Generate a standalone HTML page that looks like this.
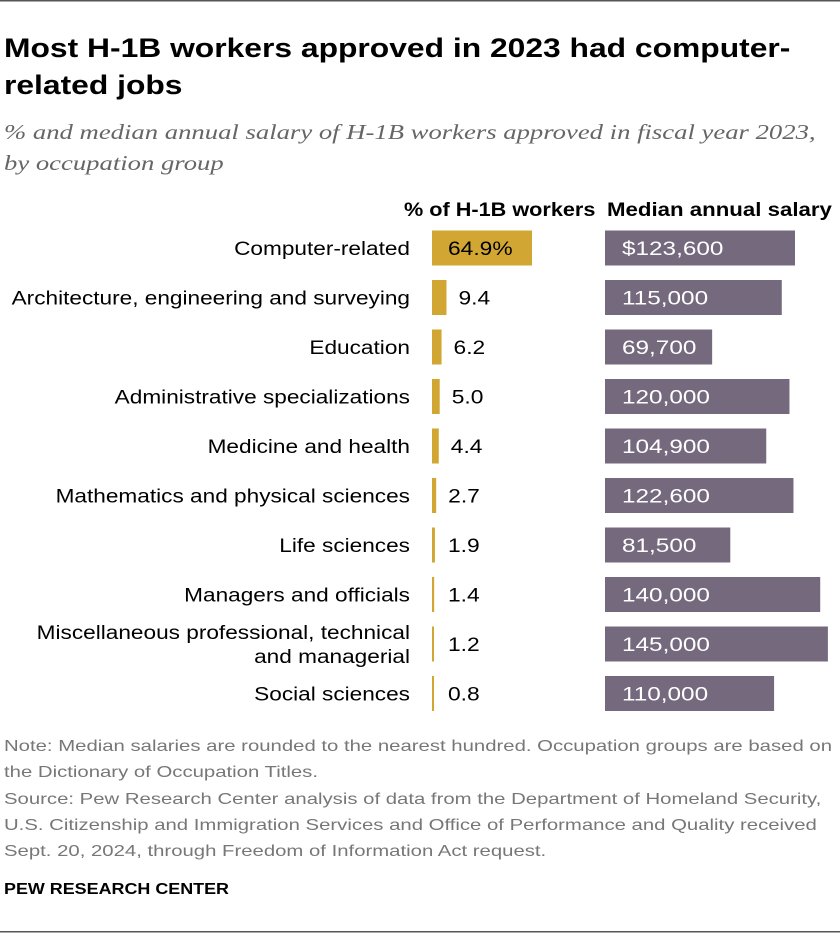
<!DOCTYPE html>
<html><head><meta charset="utf-8"><style>
body{margin:0;background:#fff;}
svg text{font-family:"Liberation Sans",Arial,sans-serif;}
</style></head><body>
<svg width="840" height="936" viewBox="0 0 840 936" xmlns="http://www.w3.org/2000/svg">
<rect x="0" y="0" width="840" height="1.5" fill="#555"/>
<text x="4" y="57" font-size="26.5" font-weight="bold" fill="#000" data-f="1.2">Most H-1B workers approved in 2023 had computer-</text>
<text x="4" y="94" font-size="26.5" font-weight="bold" fill="#000" data-f="1.2">related jobs</text>
<text x="4" y="139" font-size="21" font-style="italic" fill="#666" data-f="1.27" style="font-family:'Liberation Serif',serif">% and median annual salary of H-1B workers approved in fiscal year 2023,</text>
<text x="4" y="170" font-size="21" font-style="italic" fill="#666" data-f="1.27" style="font-family:'Liberation Serif',serif">by occupation group</text>
<text x="404" y="216" font-size="19" font-weight="bold" fill="#000" data-f="1.14">% of H-1B workers</text>
<text x="607" y="216" font-size="19" font-weight="bold" fill="#000" data-f="1.17">Median annual salary</text>
<g id="rows"></g>
<g fill="#777" font-size="16">
<text x="4" y="751" data-f="1.27">Note: Median salaries are rounded to the nearest hundred. Occupation groups are based on</text>
<text x="4" y="777" data-f="1.27">the Dictionary of Occupation Titles.</text>
<text x="4" y="804" data-f="1.27">Source: Pew Research Center analysis of data from the Department of Homeland Security,</text>
<text x="4" y="830" data-f="1.27">U.S. Citizenship and Immigration Services and Office of Performance and Quality received</text>
<text x="4" y="856" data-f="1.27">Sept. 20, 2024, through Freedom of Information Act request.</text>
</g>
<text x="4" y="894" font-size="16" font-weight="bold" fill="#000" data-f="1.12">PEW RESEARCH CENTER</text>
<rect x="0" y="931" width="840" height="1.5" fill="#555"/>
</svg>
<script>
const categories=["Computer-related","Architecture, engineering and surveying","Education","Administrative specializations","Medicine and health","Mathematics and physical sciences","Life sciences","Managers and officials","Miscellaneous professional, technical|and managerial","Social sciences"];
const pctValues=[64.9,9.4,6.2,5.0,4.4,2.7,1.9,1.4,1.2,0.8];
const pctLabels=["64.9%","9.4","6.2","5.0","4.4","2.7","1.9","1.4","1.2","0.8"];
const salaryValues=[123600,115000,69700,120000,104900,122600,81500,140000,145000,110000];
const salaryLabels=["$123,600","115,000","69,700","120,000","104,900","122,600","81,500","140,000","145,000","110,000"];
const NS="http://www.w3.org/2000/svg";
const g=document.getElementById('rows');
const pctX=v=>Math.max(2,v*100/64.9);
const salX=v=>v*190/123600;
const rowY=i=>248+i*49.5;
function mk(tag,attrs,txt){const e=document.createElementNS(NS,tag);for(const k in attrs)e.setAttribute(k,attrs[k]);if(txt!==undefined)e.textContent=txt;g.appendChild(e);return e;}
categories.forEach((c,i)=>{
  const y=rowY(i);
  const parts=c.split('|');
  parts.forEach((p,j)=>{
    const t=mk('text',{x:410,y:y+7+(j-(parts.length-1)/2)*24,'text-anchor':'end','font-size':19,fill:'#000','data-f':1.19},p);
    
    
  });
  const w=pctX(pctValues[i]);
  const b=mk('rect',{x:432,y:y-17.5,width:w,height:35,fill:'#d2a633'});
  
  
  const inside=i===0;
  const pt=mk('text',{x:inside?448:Math.max(432+w,436)+12,y:y+7,'font-size':19,fill:'#000','data-f':1.2},pctLabels[i]);
  
  
  const s=mk('rect',{x:605,y:y-17.5,width:salX(salaryValues[i]),height:35,fill:'#75697e'});
  
  
  const st=mk('text',{x:622,y:y+7,'font-size':19,fill:'#fff','data-f':1.28},salaryLabels[i]);
  
  
});
document.querySelectorAll('text[data-f]').forEach(t=>{
  const f=parseFloat(t.getAttribute('data-f'));
  const L=t.getComputedTextLength();
  t.setAttribute('textLength',(L*f).toFixed(1));
  t.setAttribute('lengthAdjust','spacingAndGlyphs');
});
</script>
</body></html>
